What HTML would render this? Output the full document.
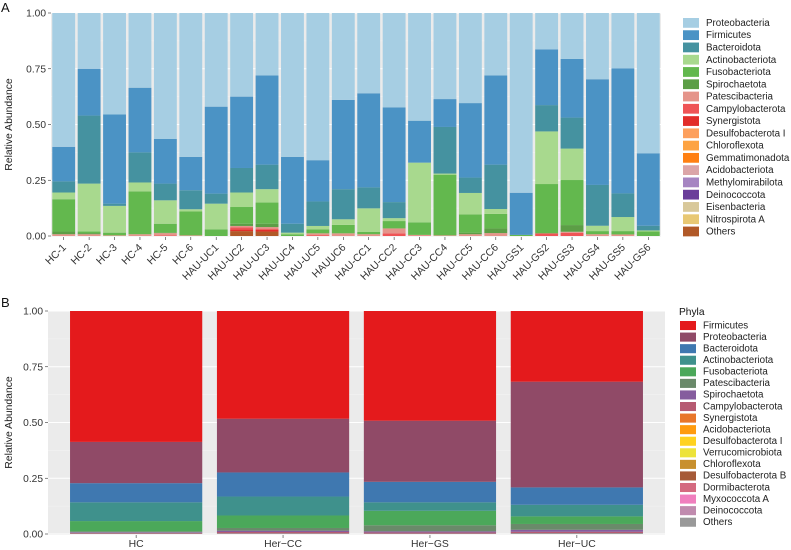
<!DOCTYPE html>
<html><head><meta charset="utf-8">
<style>
body{margin:0;background:#fff;}
svg{display:block;font-family:"Liberation Sans",Arial,sans-serif;}
</style></head>
<body>
<svg id="chart" width="791" height="550" viewBox="0 0 791 550"></svg>
<script>
// ---------- Panel A data ----------
const samplesA = ["HC-1","HC-2","HC-3","HC-4","HC-5","HC-6","HAU-UC1","HAU-UC2","HAU-UC3","HAU-UC4","HAU-UC5","HAUUC6","HAU-CC1","HAU-CC2","HAU-CC3","HAU-CC4","HAU-CC5","HAU-CC6","HAU-GS1","HAU-GS2","HAU-GS3","HAU-GS4","HAU-GS5","HAU-GS6"];
const phylaA = ["Proteobacteria","Firmicutes","Bacteroidota","Actinobacteriota","Fusobacteriota","Spirochaetota","Patescibacteria","Campylobacterota","Synergistota","Desulfobacterota I","Chloroflexota","Gemmatimonadota","Acidobacteriota","Methylomirabilota","Deinococcota","Eisenbacteria","Nitrospirota A","Others"];
const colorsA = ["#a6cee3","#4b93c5","#4592a0","#a8d98e","#63b84e","#5c9e46","#e5948a","#ef5456","#e22d2a","#fda05e","#fda342","#ff8012","#dba5a8","#a685c2","#6a3d9a","#d8c89a","#e8c874","#b15928"];
const proteoA = [.60,.25,.455,.335,.565,.645,.42,.375,.28,.645,.66,.39,.36,.423,.483,.386,.404,.28,.806,.163,.206,.297,.248,.629];
const firmA   = [.155,.21,.40,.29,.20,.15,.39,.32,.40,.30,.185,.40,.422,.425,.188,.125,.334,.40,.189,.25,.263,.474,.561,.325];
const bactA   = [.05,.305,.01,.135,.075,.085,.045,.11,.11,.04,.11,.135,.094,.072,0,.209,.069,.199,0,.118,.139,.183,.106,.021];
const actinoA = [.03,.215,.12,.04,.105,.01,.115,.065,.06,.007,.015,.025,.106,.013,.268,.005,.096,.022,0,.236,.141,.024,.063,.005];
const fusoA   = [.145,.007,.012,.192,.04,.107,.03,.075,.095,.008,.018,.038,.01,.033,.056,.272,.082,.065,.005,.221,.202,.014,.015,.02];
const spiroA  = [.012,.005,0,0,.002,0,0,.01,.015,0,0,0,0,0,0,0,.007,.021,0,0,.03,0,0,0];
const patesA  = [.008,.008,.003,.008,.01,.003,0,.007,.007,0,.008,.012,.008,.022,.005,.003,.008,.013,0,0,.005,.008,.007,0];
const campyA  = [0,0,0,0,.003,0,0,.008,.005,0,.004,0,0,.012,0,0,0,0,0,.012,.014,0,0,0];
const synergA = [0,0,0,0,0,0,0,.008,.008,0,0,0,0,0,0,0,0,0,0,0,0,0,0,0];
const othersA = [0,0,0,0,0,0,0,.022,.02,0,0,0,0,0,0,0,0,0,0,0,0,0,0,0];
const seriesA = [proteoA,firmA,bactA,actinoA,fusoA,spiroA,patesA,campyA,synergA,null,null,null,null,null,null,null,null,othersA];
const ticksA = [0,0.25,0.5,0.75,1];
const tickLabels = ["0.00","0.25","0.50","0.75","1.00"];

// ---------- Panel B data ----------
const groupsB = ["HC","Her\u2212CC","Her\u2212GS","Her\u2212UC"];
const phylaB = ["Firmicutes","Proteobacteria","Bacteroidota","Actinobacteriota","Fusobacteriota","Patescibacteria","Spirochaetota","Campylobacterota","Synergistota","Acidobacteriota","Desulfobacterota I","Verrucomicrobiota","Chloroflexota","Desulfobacterota B","Dormibacterota","Myxococcota A","Deinococcota","Others"];
const colorsB = ["#e41a1c","#904a67","#3f78b0","#3f918c","#4ba85a","#6a8a6a","#855c9e","#b65a72","#e8762a","#ff9b0f","#ffd21f","#ede33a","#c8902e","#a65a38","#d46a80","#f07fbe","#c08bae","#999999"];
const firmB   = [.587,.483,.492,.317];
const proteoB = [.185,.241,.274,.474];
const bactB   = [.086,.108,.092,.078];
const actinoB = [.084,.085,.038,.052];
const fusoB   = [.046,.056,.065,.034];
const patesB  = [.004,.012,.027,.026];
const spiroB  = [.003,.006,.005,.009];
const campyB  = [.003,.006,.005,.006];
const othersB = [.002,.003,.002,.004];
const seriesB = [firmB,proteoB,bactB,actinoB,fusoB,patesB,spiroB,campyB,null,null,null,null,null,null,null,null,null,othersB];

const NS="http://www.w3.org/2000/svg";
const svg=document.getElementById('chart');
function mk(tag,attrs,parent,text){const e=document.createElementNS(NS,tag);for(const k in attrs)e.setAttribute(k,attrs[k]);if(text!==undefined)e.textContent=text;(parent||svg).appendChild(e);return e;}

function drawPanel(cfg){
  const {x0,x1,y0,y1,cats,series,colors,names,barFrac,padUnits,bg,letter,letterY}=cfg;
  const g=mk('g',{});
  
  
  const yS=v=>y1-(y1-y0)*v;
  const n=cats.length;
  const unit=(x1-x0)/(n-1+2*padUnits);
  const xC=i=>x0+unit*(padUnits+i);
  const bgR=mk('rect',{x:x0,y:y0,width:x1-x0,height:y1-y0+1,fill:bg},g);
  
  
  [0.125,0.375,0.625,0.875].forEach(t=>mk('line',{x1:x0,x2:x1,y1:yS(t),y2:yS(t),stroke:'#f5f5f5','stroke-width':0.5},g));
  ticksA.forEach(t=>mk('line',{x1:x0,x2:x1,y1:yS(t),y2:yS(t),stroke:'#fff','stroke-width':1},g));
  const bw=unit*barFrac;
  cats.forEach((c,i)=>{
    let cum=0;
    for(let s=series.length-1;s>=0;s--){
      const arr=series[s]; if(!arr) continue;
      const v=arr[i]; if(!v) continue;
      const r=mk('rect',{x:xC(i)-bw/2,y:yS(cum+v),width:bw,height:yS(cum)-yS(cum+v),fill:colors[s]},g);
      
      
      cum+=v;
    }
    mk('line',{x1:xC(i),x2:xC(i),y1:y1+1,y2:y1+4,stroke:'#333','stroke-width':0.6},g);
    if(cfg.rot){
      const tx=mk('text',{x:xC(i)+3,y:y1+12,'text-anchor':'end','font-size':10.4,fill:'#333',transform:`rotate(-45 ${xC(i)+3} ${y1+12})`},g,c);
      
      
    } else {
      const tx=mk('text',{x:xC(i),y:y1+13,'text-anchor':'middle','font-size':10.4,fill:'#333'},g,c);
      
      
    }
  });
  ticksA.forEach((t,k)=>{
    mk('line',{x1:x0-3,x2:x0,y1:yS(t),y2:yS(t),stroke:'#333','stroke-width':0.6},g);
    const tl=mk('text',{x:x0-5,y:yS(t)+3.5,'text-anchor':'end','font-size':10.2,fill:'#333'},g,tickLabels[k]);
    
    
  });
  const yc=(y0+y1)/2;
  const yt=mk('text',{x:12,y:yc,'text-anchor':'middle','font-size':10.4,fill:'#222',transform:`rotate(-90 12 ${yc})`},g,'Relative Abundance');
  
  
  const lt=mk('text',{x:1,y:letterY,'font-size':13,fill:'#111'},g,letter);
  
  
  const lg=mk('g',{},g);
  
  
  if(cfg.legTitle){mk('text',{x:cfg.lx-1,y:cfg.ly-6,'font-size':10.2,fill:'#111'},lg,cfg.legTitle);}
  names.forEach((nm,k)=>{
    const yy=cfg.ly+k*cfg.lstep;
    const sw=mk('rect',{x:cfg.lx,y:yy,width:16,height:cfg.lstep-2.5,fill:colors[k]},lg);
    
    
    const t=mk('text',{x:cfg.lx+23,y:yy+cfg.lstep-4.3,'font-size':9.8,fill:'#222'},lg,nm);
    
    
  });
}

drawPanel({name:'panel-a',x0:51,x1:661,y0:13,y1:236,cats:samplesA,series:seriesA,colors:colorsA,names:phylaA,
  barFrac:0.9,padUnits:0.5,bg:'#ebebeb',letter:'A',letterY:12,rot:true,lx:683,ly:18,lstep:12.27});
drawPanel({name:'panel-b',x0:48,x1:665,y0:311,y1:534,cats:groupsB,series:seriesB,colors:colorsB,names:phylaB,
  barFrac:0.9,padUnits:0.6,bg:'#ebebeb',letter:'B',letterY:307,rot:false,lx:680,ly:321,lstep:11.57,legTitle:'Phyla'});
</script>
</body></html>
